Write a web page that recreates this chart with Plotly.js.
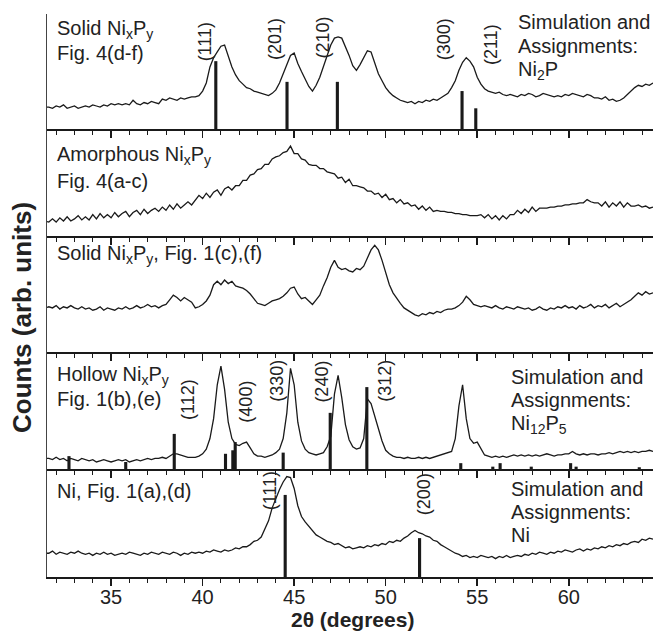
<!DOCTYPE html>
<html><head><meta charset="utf-8">
<script src="https://cdn.plot.ly/plotly-3.0.1.min.js"></script>
<style>html,body{margin:0;padding:0;background:#fff}#chart{width:653px;height:631px}</style>
</head><body><div id="chart"></div>
<script>
// 2θ sampling grid of the measured patterns
const TWO_THETA_START = 31.4;
const TWO_THETA_STEP = 0.2;

// Intensities (percent of each panel's height)
const solidFig4 = [19,
 19,18,20,19,21,18,19,20,18,19,
 20,19,21,20,19,21,20,22,21,22,
 21,22,21,25,22,21,23,22,24,23,
 22,26,25,27,26,25,27,26,27,28,
 28,29,33,40,54,62,67,72,73,64,
 54,47,42,39,36,35,33,32,31,30,
 29,31,34,40,48,57,64,66,57,50,
 44,37,33,38,45,55,64,73,79,80,
 79,72,64,55,51,56,62,68,67,58,
 48,42,36,32,29,27,25,24,23,24,
 22,24,23,25,24,26,25,27,29,31,
 36,42,51,58,62,59,54,45,39,35,
 33,32,31,32,30,29,30,29,28,30,
 29,31,30,28,29,31,30,29,28,29,
 28,30,29,31,30,29,28,30,29,27,
 27,26,28,25,26,24,25,27,30,33,
 36,38,37,39,38,40];

const amorphousFig4 = [14,
 13,16,13,17,14,18,14,16,19,15,
 18,15,20,16,21,17,20,17,22,18,
 21,23,18,22,24,20,25,21,24,26,
 23,27,24,29,25,30,26,29,32,29,
 33,38,35,40,36,41,43,38,44,46,
 43,47,47,52,52,57,58,62,63,67,
 67,72,74,75,78,79,84,77,77,72,
 71,67,66,66,63,63,60,59,58,54,
 55,50,53,47,47,46,45,42,42,39,
 40,36,39,34,35,31,34,30,31,28,
 29,25,28,24,27,23,24,23,23,22,
 22,21,21,20,20,19,19,19,20,17,
 20,16,19,15,19,16,20,20,24,21,
 25,22,27,23,26,26,26,27,27,28,
 28,29,29,30,30,31,31,34,32,31,
 31,28,32,27,31,28,32,27,31,28,
 28,29,27,28,26,27];

const solidFig1 = [38,
 39,38,40,37,39,38,40,38,37,39,
 37,38,36,37,39,36,38,37,36,38,
 37,39,37,38,40,38,39,41,39,40,
 38,40,41,45,49,47,44,47,45,43,
 38,39,41,44,49,58,61,58,62,59,
 61,57,56,55,53,50,46,42,41,40,
 42,44,45,46,48,51,55,56,50,46,
 47,44,41,45,49,57,64,73,79,73,
 71,72,70,69,72,71,74,81,88,92,
 88,79,68,58,51,46,42,38,36,34,
 32,31,33,32,34,33,35,34,36,37,
 37,38,40,43,48,45,41,40,39,40,
 39,38,40,38,37,39,38,37,39,38,
 37,38,36,37,39,37,36,38,37,39,
 38,40,38,39,37,40,38,39,41,38,
 40,39,41,38,40,42,39,41,43,45,
 48,51,49,52,50,51];

const hollowFig1 = [9,
 9,8,10,8,9,7,9,8,7,9,
 8,7,8,6,7,8,7,6,7,8,
 7,8,6,7,8,7,8,9,8,9,
 9,10,9,11,13,13,12,11,10,10,
 10,11,13,17,26,43,72,88,68,40,
 26,21,20,22,23,18,13,11,11,10,
 11,12,14,17,26,48,86,72,40,24,
 17,14,13,12,13,14,19,28,64,80,
 61,38,25,19,17,18,26,60,56,45,
 33,24,16,13,11,10,10,9,10,9,
 9,10,9,10,9,10,11,12,13,14,
 15,26,54,72,43,26,22,23,17,12,
 11,10,11,10,11,10,11,12,11,12,
 11,12,11,12,11,12,13,12,11,12,
 12,13,13,15,13,12,13,12,13,13,
 12,13,13,14,13,14,15,14,15,14,
 15,14,15,15,16,15];

const nickelFig1 = [22,
 22,24,21,23,22,21,23,22,24,22,
 21,22,20,22,21,23,21,22,20,21,
 22,21,23,22,21,20,22,21,23,22,
 21,23,22,21,23,22,20,22,21,23,
 22,23,22,24,23,25,24,23,25,24,
 25,27,26,28,28,30,33,34,37,44,
 52,64,73,81,88,93,92,82,66,56,
 51,47,42,39,37,35,33,32,30,31,
 29,27,28,26,27,28,27,29,28,30,
 29,31,30,33,32,34,33,36,38,41,
 43,41,40,38,37,34,33,30,28,26,
 24,22,21,19,20,18,19,18,20,19,
 18,19,17,19,18,20,18,19,20,19,
 21,20,22,21,23,22,21,23,22,24,
 23,25,24,23,25,26,24,26,25,27,
 26,28,27,29,28,30,29,31,30,32,
 33,32,35,34,36,35];

// Simulated reflections (stick patterns)
const ni2pPos = [40.72, 44.61, 47.36, 54.17, 54.92];
const ni2pInt = [59, 41, 41, 33, 18];
const ni12p5Pos = [32.7, 35.8, 38.45, 41.25, 41.65, 41.78, 44.4, 46.97, 48.97, 54.1, 55.85, 56.25, 57.95, 60.1, 60.4, 63.85];
const ni12p5Int = [11, 6, 30, 13, 16, 23, 14, 48, 70, 5, 2, 5, 2, 5, 2, 1.5];
const niPos = [44.51, 51.85];
const niInt = [76, 36];

// Reflection labels
const ni2pHkl = ['(111)', '(201)', '(210)', '(300)', '(211)'];
const ni2pHklX = [40.15, 43.95, 46.6, 53.2, 55.75];
const ni12p5Hkl = ['(112)', '(400)', '(330)', '(240)', '(312)'];
const ni12p5HklX = [39.2, 42.35, 44.05, 46.5, 49.95];
const niHkl = ['(111)', '(200)'];
const niHklX = [43.7, 52.1];

const tickVals = [35, 40, 45, 50, 55, 60];
const tickText = ['35', '40', '45', '50', '55', '60'];

function grid(n) { const a = []; for (let i = 0; i < n; i++) a.push(+(TWO_THETA_START + i * TWO_THETA_STEP).toFixed(2)); return a; }

const FONT = '"Liberation Sans", Arial, Helvetica, sans-serif';
const INK = '#1a1a1a';
const TOP = 14, BOTTOM = 577, LEFT = 47, WIDTH = 606;
const seps = [14, 129, 236, 352, 469, 577];
function py(p) { return (BOTTOM - p) / (BOTTOM - TOP); }
function pxr(p) { return (p - LEFT) / WIDTH; }

const series = [solidFig4, amorphousFig4, solidFig1, hollowFig1, nickelFig1];
const sticks = [[ni2pPos, ni2pInt], null, null, [ni12p5Pos, ni12p5Int], [niPos, niInt]];

const data = [];
const layout = {
  width: 653, height: 631,
  margin: {l: LEFT, r: 0, t: TOP, b: 631 - BOTTOM},
  paper_bgcolor: '#fff', plot_bgcolor: '#fff',
  showlegend: false,
  font: {family: FONT, color: INK},
  annotations: []
};

for (let k = 0; k < 5; k++) {
  const s = k === 0 ? '' : String(k + 1);
  const xa = 'x' + s, ya = 'y' + s;
  data.push({type: 'scatter', mode: 'lines', x: grid(series[k].length), y: series[k],
    xaxis: xa, yaxis: ya, line: {color: INK, width: 1.3}, hoverinfo: 'skip'});
  if (sticks[k]) {
    data.push({type: 'bar', x: sticks[k][0], y: sticks[k][1], width: 0.17,
      xaxis: xa, yaxis: ya, marker: {color: INK, line: {width: 0}}, hoverinfo: 'skip'});
  }
  const dom = [py(seps[k + 1]), py(seps[k])];
  layout['xaxis' + s] = {
    domain: [0, 1], anchor: ya, range: [31.5, 64.6],
    showline: true, linecolor: INK, linewidth: 2, mirror: false,
    ticks: 'outside', ticklen: 7, tickwidth: 1.5, tickcolor: INK,
    tickmode: 'array', tickvals: tickVals, ticktext: tickText,
    showticklabels: k === 4, tickfont: {size: 20, color: '#222', family: FONT},
    ticklabelstandoff: -6,
    minor: {dtick: 1, tick0: 0, ticks: 'outside', ticklen: 4, tickwidth: 1, tickcolor: INK, showgrid: false},
    showgrid: false, zeroline: false, fixedrange: true
  };
  layout['yaxis' + s] = {
    domain: dom, anchor: xa, range: [0, 100],
    showline: true, linecolor: '#444', linewidth: 1.2,
    showticklabels: false, ticks: '', showgrid: false, zeroline: false, fixedrange: true
  };
}

function note(text, xp, yp) {
  layout.annotations.push({text: text, xref: 'paper', yref: 'paper', x: pxr(xp), y: py(yp),
    xanchor: 'left', yanchor: 'middle', showarrow: false, font: {size: 20, color: '#222', family: FONT}});
}
function hkl(text, xdeg, yp) {
  layout.annotations.push({text: text, xref: 'x', yref: 'paper', x: xdeg, y: py(yp), textangle: -90,
    xanchor: 'center', yanchor: 'middle', showarrow: false, font: {size: 18, color: '#222', family: FONT}});
}

// Panel texts
note('Solid Ni<sub>x</sub>P<sub>y</sub>', 55, 29);
note('Fig. 4(d-f)', 55, 53);
note('Simulation and', 516, 22);
note('Assignments:', 516, 46);
note('Ni<sub>2</sub>P', 516, 70);
note('Amorphous Ni<sub>x</sub>P<sub>y</sub>', 55, 156);
note('Fig. 4(a-c)', 55, 181);
note('Solid Ni<sub>x</sub>P<sub>y</sub>, Fig. 1(c),(f)', 55, 254);
note('Hollow Ni<sub>x</sub>P<sub>y</sub>', 55, 375);
note('Fig. 1(b),(e)', 55, 399);
note('Simulation and', 509, 377);
note('Assignments:', 509, 400);
note('Ni<sub>12</sub>P<sub>5</sub>', 509, 424);
note('Ni, Fig. 1(a),(d)', 55, 491);
note('Simulation and', 509, 489);
note('Assignments:', 509, 512);
note('Ni', 509, 535);

const ni2pHklY = [42, 39, 37, 39, 44];
ni2pHkl.forEach((t, i) => hkl(t, ni2pHklX[i], ni2pHklY[i]));
const ni12p5HklY = [399, 402, 381, 382, 381];
ni12p5Hkl.forEach((t, i) => hkl(t, ni12p5HklX[i], ni12p5HklY[i]));
const niHklY = [491, 494];
niHkl.forEach((t, i) => hkl(t, niHklX[i], niHklY[i]));

// Axis titles
layout.annotations.push({text: '<b>Counts (arb. units)</b>', xref: 'paper', yref: 'paper', x: pxr(22), y: py(318),
  textangle: -90, xanchor: 'center', yanchor: 'middle', showarrow: false, font: {size: 26, color: '#222', family: FONT}});
layout.annotations.push({text: '<b>2θ (degrees)</b>', xref: 'paper', yref: 'paper', x: pxr(352), y: py(619),
  xanchor: 'center', yanchor: 'middle', showarrow: false, font: {size: 21, color: '#222', family: FONT}});

Plotly.newPlot('chart', data, layout, {displayModeBar: false, staticPlot: true});
</script></body></html>
